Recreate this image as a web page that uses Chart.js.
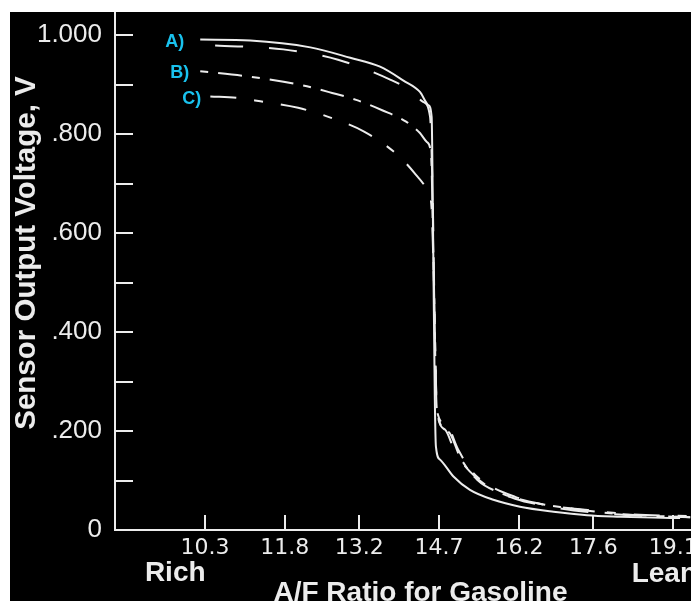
<!DOCTYPE html>
<html>
<head>
<meta charset="utf-8">
<script src="https://cdn.jsdelivr.net/npm/chart.js@4.4.1/dist/chart.umd.min.js"></script>
<style>
html, body { margin: 0; padding: 0; background: #fff; overflow: hidden; width: 691px; height: 601px; }
#wrap { position: absolute; left: 10px; top: 12px; width: 716px; height: 595px; background: #000; }
</style>
</head>
<body>
<div id="wrap"><canvas id="sensorChart" width="716" height="595"></canvas></div>
<script>
// tick values
let afrTicks = [10.3, 11.8, 13.2, 14.7, 16.2, 17.6, 19.1]
let voltTicks = [0, 0.1, 0.2, 0.3, 0.4, 0.5, 0.6, 0.7, 0.8, 0.9, 1.0]

// curve A, solid
let afrA = [10.21, 11.15, 12.28, 13.03, 13.59, 14.03, 14.34, 14.50, 14.56, 14.59, 14.62, 14.64, 14.72, 14.97, 15.28, 15.72, 16.22, 16.85, 17.48, 18.10, 18.72, 19.23]
let voltA = [0.991, 0.989, 0.975, 0.954, 0.936, 0.908, 0.885, 0.858, 0.834, 0.567, 0.263, 0.169, 0.142, 0.108, 0.081, 0.061, 0.047, 0.037, 0.030, 0.027, 0.025, 0.024]

// curve A, dashed
let afrA2 = [10.49, 11.77, 12.80, 13.78, 14.16, 14.40, 14.53, 14.58, 14.62, 14.66, 14.81, 15.00, 15.28, 15.66, 16.13, 16.69, 17.54, 18.48, 19.42]
let voltA2 = [0.979, 0.971, 0.950, 0.910, 0.888, 0.865, 0.835, 0.669, 0.405, 0.240, 0.203, 0.158, 0.118, 0.085, 0.063, 0.049, 0.036, 0.029, 0.026]

// curve B
let afrB = [10.21, 11.13, 12.14, 12.69, 13.14, 13.63, 14.08, 14.34, 14.47, 14.55, 14.59, 14.66, 14.87, 15.10, 15.42, 15.85, 16.41, 17.07, 17.91, 18.85, 19.42]
let voltB = [0.927, 0.916, 0.898, 0.883, 0.869, 0.848, 0.825, 0.802, 0.784, 0.758, 0.567, 0.240, 0.199, 0.146, 0.101, 0.075, 0.057, 0.045, 0.034, 0.028, 0.026]

// curve C
let afrC = [10.40, 10.90, 11.34, 12.05, 12.69, 13.29, 13.84, 14.12, 14.27, 14.40, 14.51, 14.56, 14.61, 14.66, 14.83, 15.06, 15.32, 15.66, 16.13, 16.69, 17.44, 18.29, 19.42]
let voltC = [0.876, 0.873, 0.866, 0.853, 0.832, 0.805, 0.765, 0.736, 0.717, 0.700, 0.679, 0.648, 0.466, 0.240, 0.213, 0.162, 0.118, 0.089, 0.067, 0.051, 0.041, 0.032, 0.028]

let curveTags = ["A)", "B)", "C)"]

let fg = "#ececec"
let cyan = "#19c2ee"
let fontFamily = "'Liberation Sans', Arial, Helvetica, sans-serif"

function toPoints(xs, ys){
    return xs.map((x, idx) => ({x: x, y: ys[idx]}))
}

function lineSet(xs, ys, dash, dashOffset){
    return {
        data: toPoints(xs, ys),
        borderColor: fg,
        borderWidth: 2,
        borderDash: dash,
        borderDashOffset: dashOffset,
        pointRadius: 0,
        cubicInterpolationMode: "monotone",
        fill: false
    }
}

// inward tick marks, tags and extra texts
let decorations = {
    id: "decorations",
    afterDraw(chart){
        let ctx = chart.ctx
        let xs = chart.scales.x
        let ys = chart.scales.y
        let area = chart.chartArea
        ctx.save()
        ctx.strokeStyle = fg
        ctx.lineWidth = 2
        ctx.beginPath()
        xs.ticks.forEach(t => {
            let px = Math.round(xs.getPixelForValue(t.value))
            ctx.moveTo(px, area.bottom)
            ctx.lineTo(px, area.bottom - 15)
        })
        ys.ticks.forEach(t => {
            let py = Math.round(ys.getPixelForValue(t.value))
            ctx.moveTo(area.left, py)
            ctx.lineTo(area.left + 18, py)
        })
        ctx.stroke()

        // series tags
        let tagShift = [[0, -16, 3], [2, -11, 2], [3, -9, 3]]
        ctx.fillStyle = cyan
        ctx.font = "bold 18px " + fontFamily
        ctx.textAlign = "right"
        ctx.textBaseline = "middle"
        tagShift.forEach((s, idx) => {
            let p = chart.data.datasets[s[0]].data[0]
            ctx.fillText(curveTags[idx], xs.getPixelForValue(p.x) + s[1], ys.getPixelForValue(p.y) + s[2])
        })

        // Rich / Lean
        ctx.fillStyle = fg
        ctx.font = "bold 28px " + fontFamily
        ctx.textAlign = "center"
        ctx.fillText("Rich", xs.getPixelForValue(9.74), area.bottom + 43)
        ctx.textAlign = "left"
        ctx.fillText("Lean", xs.getPixelForValue(18.32), area.bottom + 44)

        // y axis title
        ctx.font = "bold 29.5px " + fontFamily
        ctx.translate(area.left - 88, (area.top + area.bottom) / 2 - 18)
        ctx.rotate(-Math.PI / 2)
        ctx.textAlign = "center"
        ctx.fillText("Sensor Output Voltage, V", 0, 0)
        ctx.restore()
    }
}

let sensorChart = new Chart(document.getElementById("sensorChart"), {
    type: "line",
    data: {
        datasets: [
            lineSet(afrA, voltA, [], 0),
            lineSet(afrA2, voltA2, [28, 26], 0),
            lineSet(afrB, voltB, [24, 10, 8, 10], 34),
            lineSet(afrC, voltC, [26, 18, 9, 18], 0)
        ]
    },
    plugins: [decorations],
    options: {
        responsive: false,
        animation: false,
        devicePixelRatio: 1,
        layout: { padding: 0 },
        plugins: {
            legend: { display: false },
            tooltip: { enabled: false }
        },
        scales: {
            x: {
                type: "linear",
                min: 8.608,
                max: 20.093,
                afterBuildTicks: s => { s.ticks = afrTicks.map(v => ({value: v})) },
                afterFit: s => { s.height = 77; s.paddingLeft = 0; s.paddingRight = 0 },
                grid: { display: false, drawTicks: false },
                border: { display: true, color: fg, width: 2 },
                ticks: {
                    autoSkip: false,
                    maxRotation: 0,
                    color: fg,
                    padding: 7,
                    font: { family: "'DejaVu Sans', sans-serif", size: 22, lineHeight: 1 },
                    callback: v => v.toFixed(1)
                },
                title: {
                    display: true,
                    text: "A/F Ratio for Gasoline",
                    color: fg,
                    padding: 0,
                    font: { family: fontFamily, size: 28, weight: "bold", lineHeight: 1 }
                }
            },
            y: {
                type: "linear",
                min: 0,
                max: 1.0465,
                afterBuildTicks: s => { s.ticks = voltTicks.map(v => ({value: v})) },
                afterFit: s => { s.width = 105; s.paddingTop = 0; s.paddingBottom = 0 },
                grid: { display: false, drawTicks: false },
                border: { display: true, color: fg, width: 2 },
                ticks: {
                    autoSkip: false,
                    color: fg,
                    padding: 13,
                    font: { family: fontFamily, size: 26 },
                    callback: v => {
                        let k = Math.round(v * 10)
                        if (k % 2) return ""
                        if (k === 0) return "0"
                        if (k === 10) return "1.000"
                        return "." + (k * 100)
                    }
                }
            }
        }
    }
})
</script>
</body>
</html>
